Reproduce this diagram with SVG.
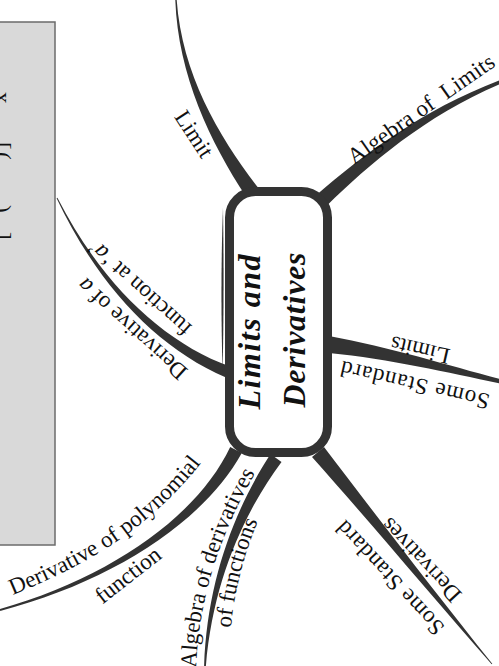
<svg xmlns="http://www.w3.org/2000/svg" width="499" height="666" viewBox="0 0 499 666">
<style>
.br{fill:#333}
.lbl{font-family:"Liberation Serif","Times New Roman",serif;font-size:23px;fill:#111}
.ctr{font-family:"Liberation Serif","Times New Roman",serif;font-size:32px;font-weight:bold;font-style:italic;fill:#111}
.it{font-style:italic}
</style>
<defs>
<path id="pDPF" d="M13,595 C70,571 150,536 213,447"/>
<path id="pAD1" d="M196,668 C199,590 226,520 262,462"/>
<path id="pAD2" d="M231,628 C234,590 246,545 265,505"/>
</defs>
<rect width="499" height="666" fill="#fff"/>
<g id="formula-box">
<rect x="-2" y="22" width="57" height="523" fill="#d9d9d9" stroke="#6b6b6b" stroke-width="1.5"/>
<text class="lbl" font-size="22" transform="rotate(90)"><tspan x="92" y="5">x</tspan><tspan x="142" y="5">[</tspan><tspan x="152" y="5">(</tspan><tspan x="205" y="5">)</tspan><tspan x="232" y="5">]</tspan></text>
</g>
<g id="connectors">
<path class="br" d="M258,187.5 C219.5,137.5 182,74.8 176.7,0 L175.3,0 C178,75.2 210.5,142.5 246,196.5 Z"/>
<path class="br" d="M327,205.5 C368.5,164.5 426.5,115 500,84 L500,80 C423.5,109 361.5,155.5 317,194.5 Z"/>
<path class="br" d="M329,336 C390,347 450,366 500,379 L500,383.5 C450,373 390,359 329,353 Z"/>
<path class="br" d="M324,447 C373.5,512 432,588.5 492.3,663.7 L491.7,664.3 C428,591.5 366.5,518 312,457 Z"/>
<path class="br" d="M281.5,462 C244.5,512 213,580.3 205.9,666 L204.1,666 C207,579.7 235.5,508 270.5,454 Z"/>
<path class="br" d="M241.8,453 C202.5,523.5 110.6,582 0.2,610.9 L-0.2,609.1 C109.4,578 197.5,516.5 230.2,447 Z"/>
<path class="br" d="M226,377.5 C157.3,348 98.2,285.9 56.6,198.2 L57.4,197.8 C101.8,284.1 162.7,342 230.2,366.6 Z"/>
</g>
<g id="node-center">
<rect x="229.5" y="191.5" width="98" height="261" rx="26" fill="#fff" stroke="#333" stroke-width="9"/>
<path class="br" d="M223,208 C221,260 221,320 222.6,372 C223.8,320 223.8,260 223,208 Z"/>
<text class="ctr" transform="translate(249,332) rotate(-90)" text-anchor="middle" dominant-baseline="central" textLength="155">Limits and</text>
<text class="ctr" transform="translate(294,330) rotate(-90)" text-anchor="middle" dominant-baseline="central" textLength="155">Derivatives</text>
</g>
<g id="node-limit">
<text class="lbl" transform="translate(194,134) rotate(57)" text-anchor="middle" dominant-baseline="central">Limit</text>
</g>
<g id="node-algebra-limits">
<text class="lbl" transform="translate(421,109) rotate(-35)" text-anchor="middle" dominant-baseline="central" textLength="174">Algebra of&#160; Limits</text>
</g>
<g id="node-standard-limits">
<text class="lbl" transform="translate(420,350) rotate(193)" text-anchor="middle" dominant-baseline="central">Limits</text>
<text class="lbl" transform="translate(415,385) rotate(193)" text-anchor="middle" dominant-baseline="central" textLength="152">Some Standard</text>
</g>
<g id="node-standard-derivatives">
<text class="lbl" transform="translate(421,560) rotate(227)" text-anchor="middle" dominant-baseline="central">Derivatives</text>
<text class="lbl" transform="translate(390,578) rotate(227)" text-anchor="middle" dominant-baseline="central" textLength="147">Some Standard</text>
</g>
<g id="node-algebra-derivatives">
<text class="lbl"><textPath href="#pAD1">Algebra of derivatives</textPath></text>
<text class="lbl"><textPath href="#pAD2">of functions</textPath></text>
</g>
<g id="node-polynomial">
<text class="lbl" font-size="24"><textPath href="#pDPF">Derivative of polynomial</textPath></text>
<text class="lbl" font-size="24" transform="translate(128,575) rotate(-38)" text-anchor="middle" dominant-baseline="central">function</text>
</g>
<g id="node-derivative-at-a">
<text class="lbl" transform="translate(132,329) rotate(222)" text-anchor="middle" dominant-baseline="central">Derivative of <tspan class="it">a</tspan></text>
<text class="lbl" transform="translate(139,288) rotate(222)" text-anchor="middle" dominant-baseline="central">function at ‘<tspan class="it">a</tspan>’</text>
</g>
</svg>
